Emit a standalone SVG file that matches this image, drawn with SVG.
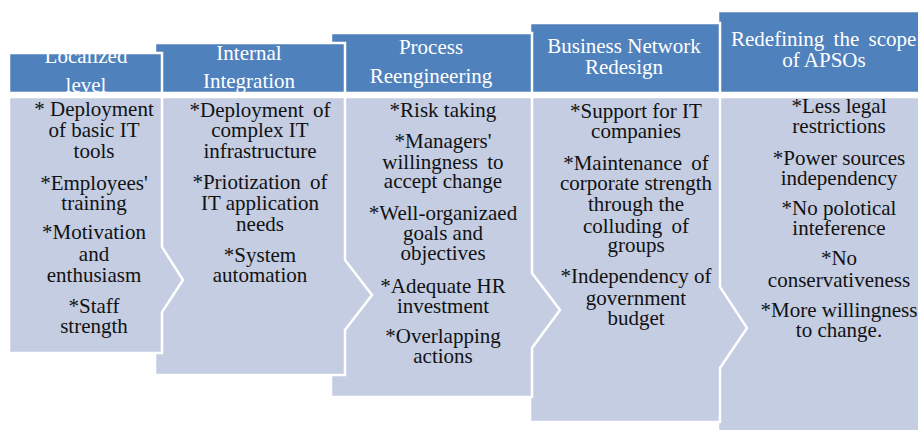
<svg xmlns="http://www.w3.org/2000/svg" width="918" height="430" viewBox="0 0 918 430">
  <style>
    .hdr { fill: #4F81BD; stroke: #ffffff; stroke-width: 2.5; }
    .body { fill: #C4CDE2; stroke: #ffffff; stroke-width: 2.5; stroke-linejoin: miter; }
    text { font-family: 'Liberation Serif', 'Times New Roman', serif; font-size: 21px; }
    .ht { fill: #ffffff; text-anchor: middle; }
    .bt { fill: #121212; text-anchor: middle; }
    .start { text-anchor: start; }
  </style>
  <rect width="918" height="430" fill="#ffffff"/>

  <!-- stages are painted right to left so each earlier step overlaps the next -->
  <g id="stage-redefining-scope">
    <rect class="hdr" x="718" y="11" width="212" height="82"/>
    <text class="ht start" x="731" y="46" word-spacing="4">Redefining the scope</text>
    <text class="ht" x="824" y="67">of APSOs</text>
    <polygon class="body" points="718,97 930,97 930,440 718,440"/>
    <g class="bt">
      <text x="839" y="113">*Less legal</text>
      <text x="839" y="133">restrictions</text>
      <text x="839" y="165">*Power sources</text>
      <text x="839" y="185">independency</text>
      <text x="839" y="215">*No polotical</text>
      <text x="839" y="235">inteference</text>
      <text x="839" y="265">*No</text>
      <text x="839" y="287">conservativeness</text>
      <text x="839" y="317">*More willingness</text>
      <text x="839" y="337">to change.</text>
    </g>
  </g>

  <g id="stage-business-network">
    <rect class="hdr" x="530" y="23" width="190" height="70"/>
    <text class="ht" x="624" y="53">Business Network</text>
    <text class="ht" x="624" y="74">Redesign</text>
    <polygon class="body" points="530,97 720,97 720,287 747,328 720,368 720,422 530,422"/>
    <g class="bt">
      <text x="636" y="118">*Support for IT</text>
      <text x="636" y="138">companies</text>
      <text x="636" y="170" word-spacing="4">*Maintenance of</text>
      <text x="636" y="190">corporate strength</text>
      <text x="636" y="211">through the</text>
      <text x="636" y="233" word-spacing="4">colluding of</text>
      <text x="636" y="252">groups</text>
      <text x="636" y="283">*Independency of</text>
      <text x="636" y="305">government</text>
      <text x="636" y="325">budget</text>
    </g>
  </g>

  <g id="stage-process-reengineering">
    <rect class="hdr" x="331" y="33" width="201" height="60"/>
    <text class="ht" x="431" y="54">Process</text>
    <text class="ht" x="431" y="83">Reengineering</text>
    <polygon class="body" points="331,97 532,97 532,273 560,310 532,348 532,397 331,397"/>
    <g class="bt">
      <text x="443" y="117">*Risk taking</text>
      <text x="443" y="148">*Managers'</text>
      <text x="443" y="169" word-spacing="4">willingness to</text>
      <text x="443" y="188">accept change</text>
      <text x="443" y="220">*Well-organizaed</text>
      <text x="443" y="240">goals and</text>
      <text x="443" y="260">objectives</text>
      <text x="443" y="293">*Adequate HR</text>
      <text x="443" y="313">investment</text>
      <text x="443" y="343">*Overlapping</text>
      <text x="443" y="363">actions</text>
    </g>
  </g>

  <g id="stage-internal-integration">
    <rect class="hdr" x="155" y="43" width="190" height="50"/>
    <text class="ht" x="249" y="60">Internal</text>
    <text class="ht" x="249" y="88">Integration</text>
    <polygon class="body" points="155,97 345,97 345,260 372,295 345,330 345,375 155,375"/>
    <g class="bt">
      <text x="260" y="117" word-spacing="4">*Deployment of</text>
      <text x="260" y="137">complex IT</text>
      <text x="260" y="158">infrastructure</text>
      <text x="260" y="189" word-spacing="4">*Priotization of</text>
      <text x="260" y="210">IT application</text>
      <text x="260" y="231">needs</text>
      <text x="260" y="262">*System</text>
      <text x="260" y="282">automation</text>
    </g>
  </g>

  <g id="stage-localized-level">
    <rect class="hdr" x="9" y="53" width="153" height="40"/>
    <text class="ht" x="86" y="63">Localized</text>
    <text class="ht" x="86" y="92">level</text>
    <polygon class="body" points="9,97 162,97 162,247 183,280 162,312 162,353 9,353"/>
    <g class="bt">
      <text x="94" y="116">* Deployment</text>
      <text x="94" y="137">of basic IT</text>
      <text x="94" y="158">tools</text>
      <text x="94" y="190">*Employees'</text>
      <text x="94" y="210">training</text>
      <text x="94" y="239">*Motivation</text>
      <text x="94" y="261">and</text>
      <text x="94" y="282">enthusiasm</text>
      <text x="94" y="313">*Staff</text>
      <text x="94" y="333">strength</text>
    </g>
  </g>

  <!-- no separate connectors: the chevron notches on each stage carry the flow -->
  <g id="connectors"/>
</svg>
